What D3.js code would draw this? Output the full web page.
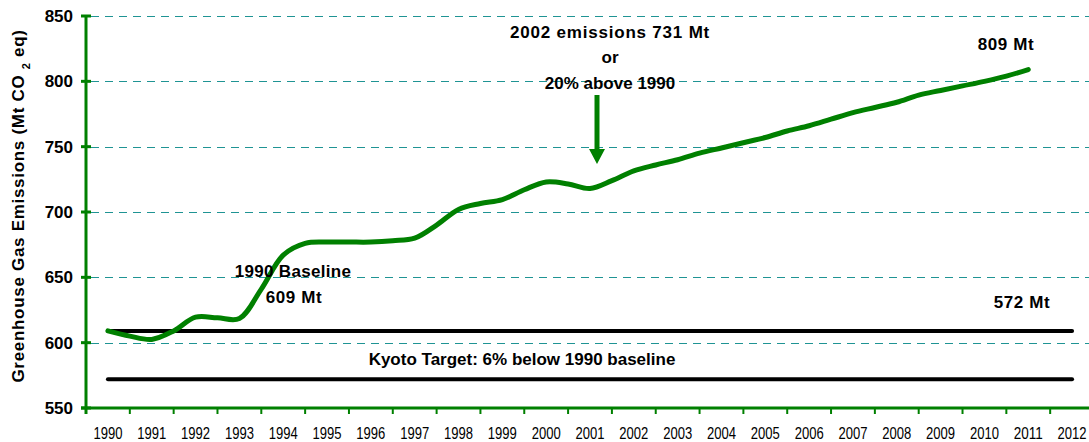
<!DOCTYPE html>
<html>
<head>
<meta charset="utf-8">
<script src="https://cdn.jsdelivr.net/npm/d3@7"></script>
<style>
  body { margin: 0; background: #fff; }
  text { font-family: "Liberation Sans", Arial, sans-serif; }
</style>
</head>
<body>
<script>
// category labels on the x axis
var years = [1990, 1991, 1992, 1993, 1994, 1995, 1996, 1997, 1998, 1999, 2000,
             2001, 2002, 2003, 2004, 2005, 2006, 2007, 2008, 2009, 2010, 2011, 2012];

// emissions line, every half year
var lineYears = [1990, 1990.5, 1991, 1991.5, 1992, 1992.5, 1993, 1993.5, 1994, 1994.5,
                 1995, 1995.5, 1996, 1996.5, 1997, 1997.5, 1998, 1998.5, 1999, 1999.5,
                 2000, 2000.5, 2001, 2001.5, 2002, 2002.5, 2003, 2003.5, 2004, 2004.5,
                 2005, 2005.5, 2006, 2006.5, 2007, 2007.5, 2008, 2008.5, 2009, 2009.5,
                 2010, 2010.5, 2011];
var emissions = [609, 605, 602.5, 609, 619.5, 619, 618.5, 641, 667, 676,
                 677, 677, 677, 678, 680, 690, 702, 706.5, 709.5, 717,
                 723, 721.5, 718, 724, 731.5, 736, 740, 745, 749, 753,
                 757, 762, 766, 771, 776, 780, 784, 789.5, 793, 796.5,
                 800, 804, 809];

// reference lines
var baselineValue = 609;
var kyotoValue = 572;
var refYears = [1990, 2012];

var yTicks = [550, 600, 650, 700, 750, 800, 850];

var width = 1089, height = 442;
var padLeft = 86, padTop = 16, padBottom = 408, padRight = 1094;

var svg = d3.select("body").append("svg")
    .attr("width", width)
    .attr("height", height);

var x = d3.scaleLinear().domain([1989.5, 2012.5]).range([padLeft, padRight]);
var y = d3.scaleLinear().domain([550, 850]).range([padBottom, padTop]);

// dashed grid
svg.selectAll(".grid")
    .data(yTicks.filter(function(d){ return d > 550; }))
    .enter().append("line")
    .attr("x1", padLeft + 5).attr("x2", width)
    .attr("y1", function(d){ return Math.round(y(d)) + 0.5; })
    .attr("y2", function(d){ return Math.round(y(d)) + 0.5; })
    .attr("stroke", "#1f9494")
    .attr("stroke-width", 1)
    .attr("stroke-dasharray", "8,6");

// y axis
var yAxis = svg.append("g");
yAxis.append("line")
    .attr("x1", padLeft).attr("x2", padLeft)
    .attr("y1", padTop).attr("y2", padBottom)
    .attr("stroke", "#008000").attr("stroke-width", 3);
yAxis.selectAll(".ytick")
    .data(yTicks).enter().append("line")
    .attr("x1", padLeft - 5).attr("x2", padLeft + 5)
    .attr("y1", function(d){ return y(d); })
    .attr("y2", function(d){ return y(d); })
    .attr("stroke", "#008000").attr("stroke-width", 3);
yAxis.selectAll(".ylab")
    .data(yTicks).enter().append("text")
    .attr("x", 73)
    .attr("y", function(d){ return y(d); })
    .attr("dy", "0.36em")
    .attr("text-anchor", "end")
    .attr("font-size", 17)
    .attr("font-weight", "bold")
    .text(function(d){ return d; });

// y title
var title = svg.append("text")
    .attr("transform", "translate(24,206) rotate(-90)")
    .attr("text-anchor", "middle")
    .attr("font-size", 17)
    .attr("font-weight", "bold")
    .attr("letter-spacing", 0.7);
title.append("tspan").text("Greenhouse Gas Emissions (Mt CO ");
title.append("tspan").attr("font-size", 11).attr("dy", 6).text("2");
title.append("tspan").attr("dy", -6).text("  eq)");

// x axis
var xAxis = svg.append("g");
xAxis.append("line")
    .attr("x1", padLeft - 5).attr("x2", width)
    .attr("y1", padBottom).attr("y2", padBottom)
    .attr("stroke", "#008000").attr("stroke-width", 3);
xAxis.selectAll(".xtick")
    .data(years).enter().append("line")
    .attr("x1", function(d){ return x(d + 0.5); })
    .attr("x2", function(d){ return x(d + 0.5); })
    .attr("y1", padBottom).attr("y2", padBottom + 6)
    .attr("stroke", "#008000").attr("stroke-width", 2);
xAxis.append("line")
    .attr("x1", padLeft).attr("x2", padLeft)
    .attr("y1", padBottom).attr("y2", padBottom + 6)
    .attr("stroke", "#008000").attr("stroke-width", 3);
xAxis.selectAll(".xlab")
    .data(years).enter().append("text")
    .attr("x", function(d){ return x(d); })
    .attr("y", 439)
    .attr("text-anchor", "middle")
    .attr("font-size", 16)
    .attr("textLength", 29)
    .attr("lengthAdjust", "spacingAndGlyphs")
    .text(function(d){ return d; });

// reference lines
var refLine = d3.line()
    .x(function(d){ return x(d[0]); })
    .y(function(d){ return y(d[1]); });
[baselineValue, kyotoValue].forEach(function(v){
    svg.append("path")
        .attr("d", refLine(refYears.map(function(yr){ return [yr, v]; })))
        .attr("stroke", "#000").attr("stroke-width", 4)
        .attr("stroke-linecap", "round").attr("fill", "none");
});

// emissions line
var emLine = d3.line()
    .x(function(d, i){ return x(lineYears[i]); })
    .y(function(d){ return y(d); })
    .curve(d3.curveCatmullRom.alpha(0.5));
svg.append("path")
    .attr("d", emLine(emissions))
    .attr("stroke", "#008000").attr("stroke-width", 5)
    .attr("stroke-linecap", "round").attr("stroke-linejoin", "round")
    .attr("fill", "none");

// arrow pointing at 2001-2002
var ax = 597;
svg.append("line")
    .attr("x1", ax).attr("x2", ax)
    .attr("y1", 95).attr("y2", 152)
    .attr("stroke", "#008000").attr("stroke-width", 5);
svg.append("path")
    .attr("d", "M" + (ax - 8) + ",149L" + (ax + 8) + ",149L" + ax + ",164Z")
    .attr("fill", "#008000");

// annotations
function note(tx, ty, s, ls){
    svg.append("text")
        .attr("x", tx).attr("y", ty)
        .attr("dy", "0.36em")
        .attr("text-anchor", "middle")
        .attr("font-size", 17)
        .attr("font-weight", "bold")
        .attr("letter-spacing", ls || 0)
        .text(s);
}
note(610, 32, "2002 emissions 731 Mt", 0.8);
note(610, 57, "or");
note(610, 83, "20% above 1990");
note(293, 271, "1990 Baseline", 0.3);
note(294, 297, "609 Mt", 0.6);
note(522, 359, "Kyoto Target: 6% below  1990 baseline", 0);
note(1006, 44, "809 Mt", 0.6);
note(1022, 302, "572 Mt", 0.6);
</script>
</body>
</html>
